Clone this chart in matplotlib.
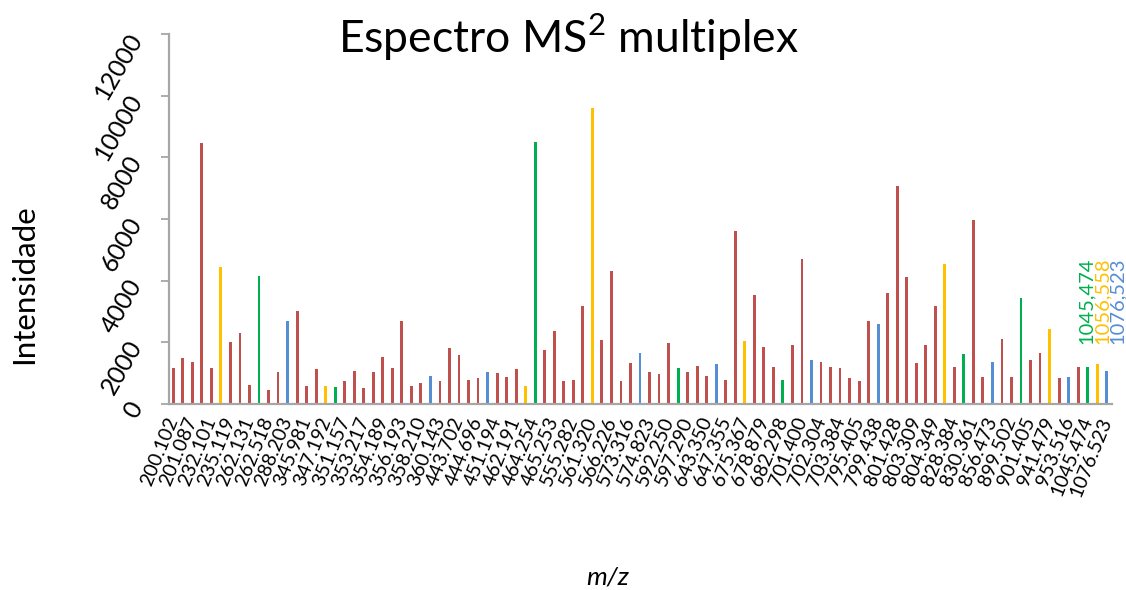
import numpy as np
import matplotlib.pyplot as plt

plt.rcParams['font.family'] = ['Lato', 'DejaVu Sans']
plt.rcParams['mathtext.fontset'] = 'custom'
plt.rcParams['mathtext.rm'] = 'Lato'

# --- DATOS DEL ESPECTRO ---
# intensidades de los 99 picos, en el orden del eje m/z
intensidades = [
    1166, 1490, 1373, 8470, 1166, 4452, 2021, 2313, 628, 4160,
    466, 1037, 2680, 3013, 583, 1124, 583, 551, 757, 1082,
    509, 1037, 1536, 1166, 2680, 583, 670, 920, 757, 1827,
    1578, 790, 842, 1037, 995, 875, 1124, 583, 8511, 1740,
    2355, 757, 790, 3175, 9590, 2074, 4322, 757, 1328, 1665,
    1037, 962, 1989, 1166, 1037, 1244, 920, 1286, 790, 5605,
    2031, 3544, 1860, 1199, 790, 1902, 4698, 1416, 1373, 1199,
    1166, 833, 757, 2680, 2605, 3587, 7063, 4128, 1328, 1902,
    3175, 4526, 1199, 1620, 5974, 875, 1373, 2119, 875, 3425,
    1416, 1665, 2430, 833, 875, 1199, 1199, 1286, 1082,
]

# grupo de cada pico: r = fragmento, y/g/b = ion reportero
grupos = list(
    "rrrrryrrrg"
    "rrbrrrygrr"
    "rrrrrrrbrr"
    "rrrbrrrygr"
    "rrrryrrrrb"
    "rrrgrrrbrr"
    "yrrrgrrbrr"
    "rrrrbrrrrr"
    "ryrgrrbrrg"
    "rryrbrgyb"
)

# etiquetas del eje x (una de cada dos categorias)
etiquetas_mz = [
    '200.102', '201.087', '232.101', '235.119', '262.131', '262.518',
    '288.203', '345.981', '347.192', '351.157', '353.217', '354.189',
    '356.193', '358.210', '360.143', '443.702', '444.696', '451.194',
    '462.191', '464.254', '465.253', '555.282', '561.320', '566.226',
    '573.316', '574.823', '592.250', '597.290', '643.350', '647.355',
    '675.367', '678.879', '682.298', '701.400', '702.304', '703.384',
    '795.405', '799.438', '801.428', '803.309', '804.349', '828.384',
    '830.361', '856.473', '899.502', '901.405', '941.479', '953.516',
    '1045.474', '1076.523',
]

# iones reporteros marcados al final del espectro
reporteros = ['1045,474', '1056,558', '1076,523']

colores = {'r': '#C0504D', 'y': '#FFC000', 'g': '#00B050', 'b': '#558ED5'}
gris = '#A6A6A6'

fig = plt.figure(figsize=(11.26, 5.9), dpi=100)
ax = fig.add_axes([168.5 / 1126, 186 / 590, 943 / 1126, 370 / 590])

x = np.arange(len(intensidades))
ax.bar(x, intensidades, width=0.3, color=[colores[g] for g in grupos])

ax.set_xlim(-0.5, len(intensidades) - 0.5)
ax.set_ylim(0, 12000)
ax.set_yticks(np.arange(0, 12001, 2000))
ax.set_yticklabels([str(v) for v in range(0, 12001, 2000)], fontsize=18,
                   rotation=60, ha='right', va='center', rotation_mode='anchor')
ax.set_xticks(x[::2])
ax.set_xticklabels(etiquetas_mz, fontsize=14, rotation=68, ha='right',
                   va='center', rotation_mode='anchor')
ax.tick_params(axis='x', length=0, pad=10)
ax.tick_params(axis='y', length=6, width=1.3, color=gris, pad=17)

for lado in ['top', 'right']:
    ax.spines[lado].set_visible(False)
for lado in ['left', 'bottom']:
    ax.spines[lado].set_color(gris)
    ax.spines[lado].set_linewidth(1.6)

# rotulos de los iones reporteros
for pos, txt, col in zip([95.9, 97.5, 99.1], reporteros, ['g', 'y', 'b']):
    ax.text(pos, 1950, txt, rotation=90, ha='center', va='bottom',
            fontsize=14.5, color=colores[col], clip_on=False)

fig.text(0.505, 0.937, r'Espectro MS$^{2}$ multiplex', ha='center', va='center',
         fontsize=32)
fig.text(0.021, 0.519, 'Intensidade', rotation=90, ha='center', va='center',
         fontsize=22.5)
fig.text(0.54, 0.022, 'm/z', style='italic', ha='center', va='center',
         fontsize=19)

fig.savefig('out.png', dpi=100)
